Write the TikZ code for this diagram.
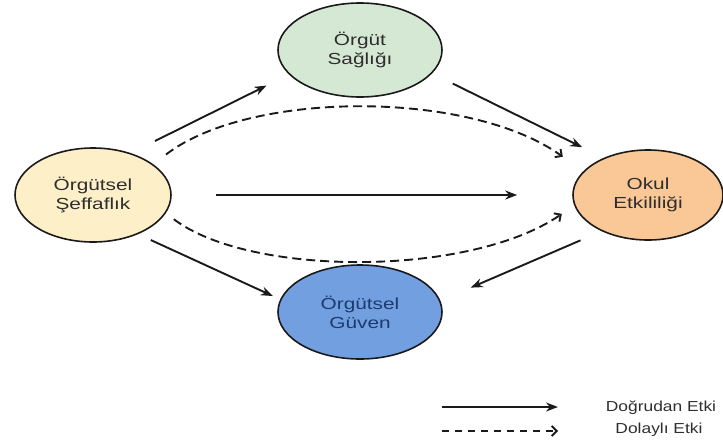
\documentclass[tikz,border=0pt]{standalone}
\usepackage{fontspec}
\setmainfont{Liberation Sans}
\newfontfamily\nodefont[FakeStretch=1.3]{Liberation Sans}
\newfontfamily\legfont[FakeStretch=1.2]{Liberation Sans}
\usetikzlibrary{arrows.meta,shapes.geometric}
\definecolor{cS}{HTML}{FDEFC8}
\definecolor{cG}{HTML}{D5E8D4}
\definecolor{cO}{HTML}{F9C896}
\definecolor{cV}{HTML}{729FE0}
\definecolor{txt}{HTML}{2E2E2E}
\definecolor{txtV}{HTML}{1C3A6E}
\definecolor{edge}{HTML}{1A1A1A}
\begin{document}
\begin{tikzpicture}[x=1pt,y=-1pt,
  bub/.style={ellipse, draw=edge, line width=1.6pt, inner sep=0pt, align=center,
    text=txt, font=\nodefont\fontsize{16}{19}\selectfont},
  solidarr/.style={draw=edge, line width=1.9pt, -{Stealth[length=12pt,width=9pt]}},
  dasharr/.style={draw=edge, line width=1.9pt, dash pattern=on 9pt off 5pt,
    -{Straight Barb[length=5pt,width=10pt]}},
  legtext/.style={text=txt, font=\legfont\fontsize{14.5}{16}\selectfont, inner sep=0pt}]
\useasboundingbox (0,0) rectangle (723,442);
\node[bub, fill=cS, minimum width=156pt, minimum height=94pt] (s) at (93,195) {Örgütsel\\Şeffaflık};
\node[bub, fill=cG, minimum width=164pt, minimum height=94pt] (g) at (360,50) {Örgüt\\Sağlığı};
\node[bub, fill=cO, minimum width=150pt, minimum height=90pt] (o) at (648,195) {Okul\\Etkililiği};
\node[bub, fill=cV, text=txtV, minimum width=164pt, minimum height=94pt] (v) at (360,312) {Örgütsel\\Güven};
% direct effects
\draw[solidarr, shorten <=27pt, shorten >=25pt] (s.48) -- (g.199);
\draw[solidarr, shorten <=23pt, shorten >=24pt] (g.-18) -- (o.140.5);
\draw[solidarr, shorten <=44pt, shorten >=55pt] (s.east) -- (o.west);
\draw[solidarr, shorten <=14pt, shorten >=8pt] (s.-41) -- (v.171);
\draw[solidarr, shorten <=23pt, shorten >=33pt] (o.218.4) -- (v.8);
% indirect effects
\draw[dasharr, shorten <=16pt, shorten >=25pt] (s.27) .. controls (250,90) and (470,90) .. (o.160);
\draw[dasharr, shorten <=10pt, shorten >=15pt] (s.-14) .. controls (250,277) and (470,277) .. (o.188.4);
% legend
\coordinate (l1a) at (442,407);
\coordinate (l1b) at (558,407);
\coordinate (l2a) at (442,431);
\coordinate (l2b) at (558,431);
\draw[solidarr] (l1a) -- (l1b);
\draw[dasharr, dash pattern=on 7pt off 6pt] (l2a) -- (l2b);
\node[legtext] (t1) at (661,408) {Doğrudan Etki};
\node[legtext] (t2) at (659,430) {Dolaylı Etki};
\end{tikzpicture}
\end{document}
